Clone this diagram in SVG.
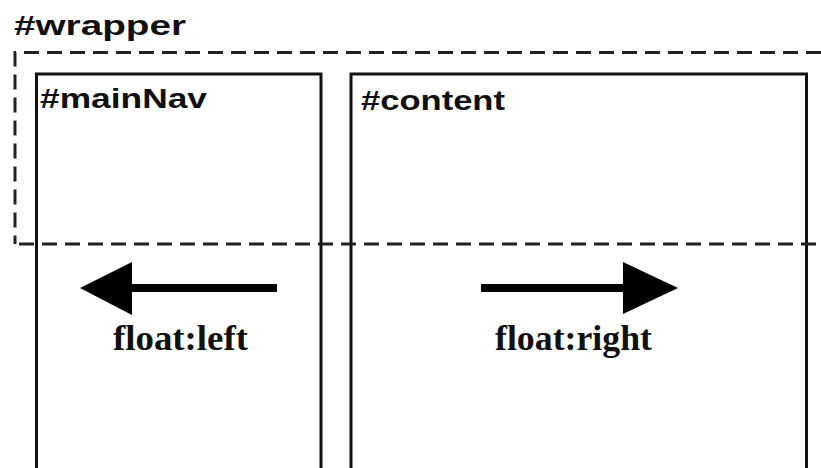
<svg xmlns="http://www.w3.org/2000/svg" width="821" height="468" viewBox="0 0 821 468">
  <style>
    .box { fill: none; stroke: #111; stroke-width: 3; }
    .dash { fill: none; stroke: #222; stroke-width: 3; stroke-dasharray: 15 8; }
    .id { font-family: "Liberation Sans", Arial, sans-serif; font-weight: bold; font-size: 28px; fill: #111; }
    .lbl { font-family: "Liberation Serif", "Times New Roman", serif; font-weight: bold; font-size: 36px; fill: #111; }
    .shaft { stroke: #000; stroke-width: 8; fill: none; }
    .head { fill: #000; }
  </style>
  <rect width="821" height="468" fill="#fff"/>
  <g id="wrapper">
    <path class="dash" d="M821,52.5 H15 V244"/>
    <text class="id" x="14" y="35" textLength="172" lengthAdjust="spacingAndGlyphs">#wrapper</text>
  </g>
  <g id="mainNav">
    <rect class="box" x="36.5" y="74" width="284.5" height="420"/>
    <text class="id" x="40" y="108" textLength="167" lengthAdjust="spacingAndGlyphs">#mainNav</text>
  </g>
  <g id="content">
    <rect class="box" x="351" y="74" width="455.5" height="420"/>
    <text class="id" x="361" y="110" textLength="144" lengthAdjust="spacingAndGlyphs">#content</text>
  </g>
  <g id="wrapper-bottom">
    <path class="dash" d="M15,244 H821" stroke-dashoffset="-4"/>
  </g>
  <g id="connectors">
    <line class="shaft" x1="128" y1="288" x2="277" y2="288"/>
    <polygon class="head" points="80,288 132,262 132,315"/>
    <line class="shaft" x1="481" y1="288" x2="627" y2="288"/>
    <polygon class="head" points="678,288 623,262 623,314"/>
  </g>
  <g id="labels">
    <text class="lbl" x="113" y="350" textLength="135" lengthAdjust="spacingAndGlyphs">float:left</text>
    <text class="lbl" x="495" y="350" textLength="157" lengthAdjust="spacingAndGlyphs">float:right</text>
  </g>
</svg>
